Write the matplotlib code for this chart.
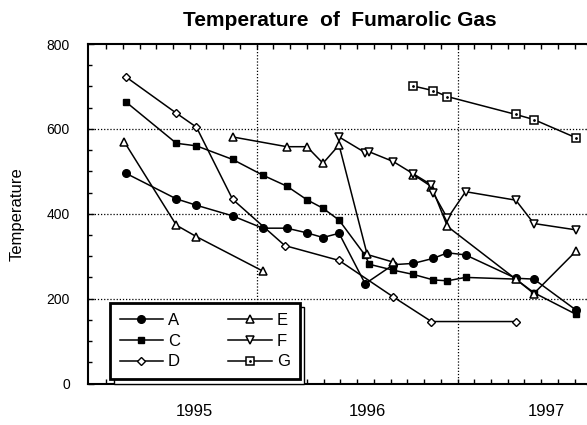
import numpy as np
import matplotlib
matplotlib.use("Agg")
import matplotlib.pyplot as plt

plt.rcParams['font.family'] = ['Liberation Sans', 'DejaVu Sans']

# data (decimal years, temperature)
a_x = [1995.35, 1995.60, 1995.70, 1995.88, 1996.03, 1996.15, 1996.25, 1996.33, 1996.41,
       1996.54, 1996.68, 1996.78, 1996.88, 1996.95, 1997.04, 1997.29, 1997.38, 1997.59]
a_y = [495, 435, 420, 395, 366, 366, 355, 344, 354, 235, 280, 283, 295, 308, 303, 248, 246, 173]

c_x = [1995.35, 1995.60, 1995.70, 1995.88, 1996.03, 1996.15, 1996.25, 1996.33, 1996.41,
       1996.54, 1996.56, 1996.68, 1996.78, 1996.88, 1996.95, 1997.04, 1997.29, 1997.38, 1997.59]
c_y = [663, 566, 560, 528, 491, 465, 433, 413, 385, 302, 281, 267, 257, 244, 242, 250, 246, 214, 163]

d_x = [1995.35, 1995.60, 1995.70, 1995.88, 1996.14, 1996.41, 1996.68, 1996.87, 1997.29]
d_y = [722, 637, 604, 434, 325, 290, 204, 146, 146]

# E has gaps between its runs
e_x = [1995.34, 1995.60, 1995.70, 1996.03, np.nan,
       1995.88, 1996.15, 1996.25, 1996.33, 1996.41, 1996.55, 1996.68, np.nan,
       1996.78, 1996.87, 1996.95, 1997.29, 1997.38, 1997.59]
e_y = [570, 373, 346, 265, np.nan,
       581, 558, 558, 519, 562, 304, 286, np.nan,
       492, 464, 370, 246, 212, 312]

f_x = [1996.41, 1996.54, 1996.56, 1996.68, 1996.78, 1996.87, 1996.88, 1996.95,
       1997.04, 1997.29, 1997.38, 1997.59]
f_y = [581, 544, 546, 523, 494, 468, 448, 389, 452, 432, 377, 362]

g_x = [1996.78, 1996.88, 1996.95, 1997.29, 1997.38, 1997.59]
g_y = [701, 690, 676, 634, 622, 579]

year_pos = [1995.69, 1996.55, 1997.44]
year_labels = ['1995', '1996', '1997']

fig = plt.figure(figsize=(5.87, 4.25), dpi=100)
ax = fig.add_axes([88 / 587, (425 - 383.5) / 425, 503.5 / 587, 339.5 / 425])

for v in [200, 400, 600]:
    ax.axhline(v, color='black', lw=0.9, ls=(0, (1, 1.5)), zorder=1)
for v in [1996, 1997]:
    ax.axvline(v, color='black', lw=0.9, ls=(0, (1, 1.5)), zorder=1)

lw = 1.1
la, = ax.plot(a_x, a_y, color='black', lw=lw, marker='o', ms=5.5, mfc='black', label='A')
lc, = ax.plot(c_x, c_y, color='black', lw=lw, marker='s', ms=5, mfc='black', label='C')
ld, = ax.plot(d_x, d_y, color='black', lw=lw, marker='D', ms=4.2, mfc='white', mew=1.0, label='D')
le, = ax.plot(e_x, e_y, color='black', lw=lw, marker='^', ms=6, mfc='white', mew=1.1, label='E')
lf, = ax.plot(f_x, f_y, color='black', lw=lw, marker='v', ms=6, mfc='white', mew=1.1, label='F')
lg, = ax.plot(g_x, g_y, color='black', lw=lw, marker='s', ms=6.3, mfc='white', mew=1.1, label='G')
lg2, = ax.plot(g_x, g_y, ls='none', marker='.', ms=2, color='black')

ax.set_xlim(1995.16, 1997.667)
ax.set_ylim(0, 800)

ax.set_yticks([0, 200, 400, 600, 800])
ax.set_yticks(np.arange(0, 801, 50), minor=True)
ax.set_xticks(year_pos)
ax.set_xticklabels(year_labels, fontsize=12)
ax.set_xticks(np.arange(1995 + 3 / 12, 1997.7, 1 / 12), minor=True)
ax.tick_params(axis='x', which='major', length=0, pad=15)
ax.tick_params(axis='x', which='minor', direction='in', length=3.5, top=True, bottom=True, width=1)
ax.tick_params(axis='y', which='both', direction='in', left=True, right=True, width=1)
ax.tick_params(axis='y', which='major', length=4, labelsize=10, pad=13)
ax.tick_params(axis='y', which='minor', length=3)
for s in ax.spines.values():
    s.set_linewidth(1.5)

ax.set_ylabel('Temperature', fontsize=12)
ax.yaxis.set_label_coords(-0.126, 0.5)
ax.set_title('Temperature  of  Fumarolic Gas', fontsize=15, fontweight='bold', pad=13)

leg = ax.legend(handles=[la, lc, ld, le, lf, (lg, lg2)], labels=['A', 'C', 'D', 'E', 'F', 'G'],
                ncol=2, loc='lower left', bbox_to_anchor=(0.043, 0.012), borderaxespad=0,
                numpoints=1, handlelength=2.6, columnspacing=2.9, labelspacing=0.34,
                fontsize=12, handletextpad=0.3, borderpad=0.6, fancybox=False,
                shadow={'facecolor': 'white', 'edgecolor': 'black', 'linewidth': 1, 'alpha': 1,
                        'ox': 3, 'oy': -3},
                framealpha=1)
leg.get_frame().set_edgecolor('black')
leg.get_frame().set_linewidth(2)

fig.savefig('out.png', dpi=100)
